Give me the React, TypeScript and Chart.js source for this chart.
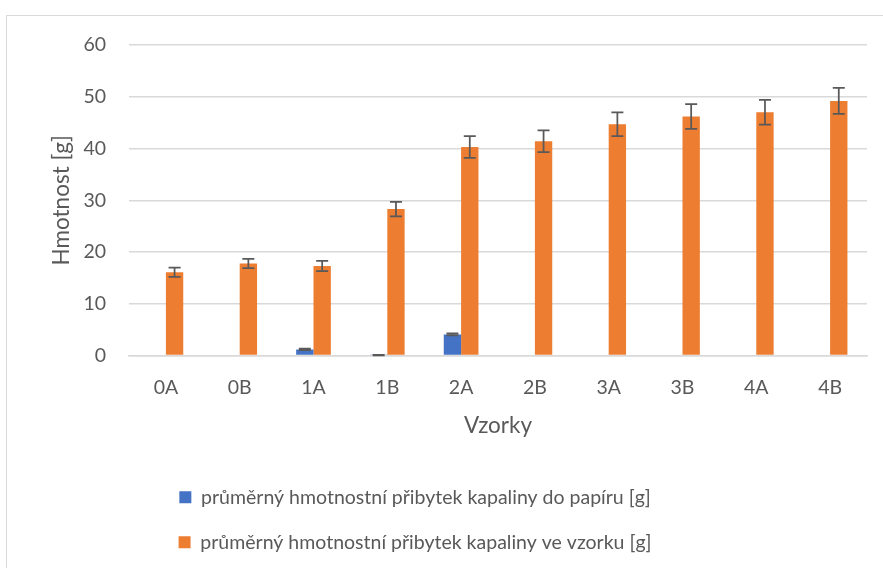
import React, { useEffect, useRef } from "react";
import { Chart, registerables } from "chart.js";

Chart.register(...registerables);

const categories = ["0A", "0B", "1A", "1B", "2A", "2B", "3A", "3B", "4A", "4B"];
const paperValues = [0, 0, 1.2, 0.1, 4.1, 0, 0, 0, 0, 0];
const paperErrors = [0, 0, 0.15, 0.05, 0.2, 0, 0, 0, 0, 0];
const sampleValues = [16.1, 17.8, 17.3, 28.3, 40.3, 41.4, 44.7, 46.2, 47.0, 49.2];
const sampleErrors = [0.9, 0.9, 1.0, 1.4, 2.1, 2.1, 2.3, 2.4, 2.4, 2.5];
const seriesNames = [
  "průměrný hmotnostní přibytek kapaliny do papíru [g]",
  "průměrný hmotnostní přibytek kapaliny ve vzorku [g]",
];
const yTitle = "Hmotnost [g]";
const xTitle = "Vzorky";

const FONT = "Lato, 'Open Sans', sans-serif";
const TEXT = "#595959";

const errorBarPlugin = {
  id: "errorBars",
  afterDatasetsDraw(chart: any) {
    const ctx = chart.ctx;
    const yScale = chart.scales.y;
    chart.data.datasets.forEach((ds: any, di: number) => {
      const meta = chart.getDatasetMeta(di);
      const errs: number[] = ds.errors || [];
      meta.data.forEach((bar: any, i: number) => {
        const v = ds.data[i];
        const e = errs[i];
        if (!e) return;
        const x = bar.x;
        const yTop = yScale.getPixelForValue(v + e);
        const yBot = yScale.getPixelForValue(v - e);
        ctx.save();
        ctx.strokeStyle = "#595959";
        ctx.lineWidth = 1.75;
        ctx.beginPath();
        ctx.moveTo(x, yTop);
        ctx.lineTo(x, yBot);
        ctx.moveTo(x - 6, yTop);
        ctx.lineTo(x + 6, yTop);
        ctx.moveTo(x - 6, yBot);
        ctx.lineTo(x + 6, yBot);
        ctx.stroke();
        ctx.restore();
      });
    });
  },
};

export default function App() {
  const ref = useRef<HTMLCanvasElement>(null);
  useEffect(() => {
    if (!ref.current) return;
    const chart = new Chart(ref.current, {
      type: "bar",
      data: {
        labels: categories,
        datasets: [
          {
            label: seriesNames[0],
            data: paperValues,
            errors: paperErrors,
            backgroundColor: "#4472C4",
            barPercentage: 1,
            categoryPercentage: 0.47,
          } as any,
          {
            label: seriesNames[1],
            data: sampleValues,
            errors: sampleErrors,
            backgroundColor: "#ED7D31",
            barPercentage: 1,
            categoryPercentage: 0.47,
          } as any,
        ],
      },
      options: {
        animation: false,
        responsive: false,
        devicePixelRatio: 1,
        layout: { padding: { left: 48, right: 16, top: 45, bottom: 6 } },
        plugins: {
          tooltip: { enabled: false },
          legend: {
            position: "bottom",
            labels: {
              font: { family: FONT, size: 19.5 },
              color: TEXT,
              boxWidth: 12,
              boxHeight: 12,
              padding: 25.5,
              generateLabels(chart: any) {
                const items = Chart.defaults.plugins.legend.labels.generateLabels(chart);
                items.forEach((it: any) => {
                  it.text = it.text + "\u00a0".repeat(17);
                });
                return items;
              },
            },
          },
        },
        scales: {
          x: {
            grid: { display: false },
            border: { color: "#d9d9d9", width: 1.5 },
            ticks: { font: { family: FONT, size: 19.5 }, color: TEXT, padding: 12 },
            title: {
              display: true,
              text: xTitle,
              font: { family: FONT, size: 22.5 },
              color: TEXT,
              padding: { top: 1, bottom: 23 },
            },
          },
          y: {
            min: 0,
            max: 60,
            afterFit(scale: any) {
              scale.width = 81;
            },
            ticks: { stepSize: 10, font: { family: FONT, size: 19.5 }, color: TEXT, padding: 23 },
            grid: { color: "#d9d9d9", lineWidth: 1.5, drawTicks: false },
            border: { display: false },
            title: {
              display: true,
              text: yTitle,
              font: { family: FONT, size: 22.5 },
              color: TEXT,
              padding: { top: 0, bottom: 8 },
            },
          },
        },
      },
      plugins: [errorBarPlugin],
    });
    return () => chart.destroy();
  }, []);
  return (
    <>
      <div
        style={{
          position: "fixed",
          left: 6,
          top: 15,
          width: 900,
          height: 600,
          border: "1px solid #d9d9d9",
          background: "#fff",
        }}
      />
      <canvas
        ref={ref}
        width={883}
        height={568}
        style={{ position: "fixed", left: 0, top: 0, width: 883, height: 568 }}
      />
    </>
  );
}
